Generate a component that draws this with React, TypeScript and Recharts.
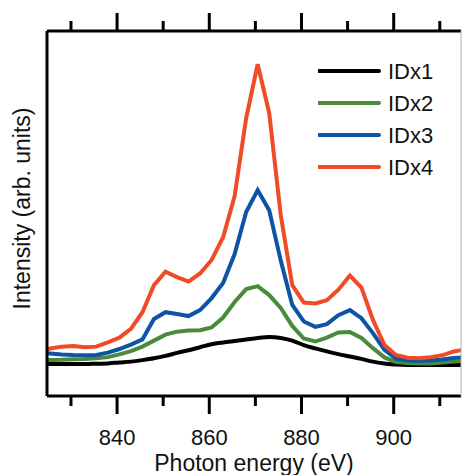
import React from 'react';
import { LineChart, Line, XAxis, YAxis, Legend } from 'recharts';

const energy = [823, 825.5, 828, 830.5, 833, 835.5, 838, 840.5, 843, 845.5, 848, 850.5, 853, 855.5, 858, 860.5, 863, 865.5, 868, 870.5, 873, 875.5, 878, 880.5, 883, 885.5, 888, 890.5, 893, 895.5, 898, 900.5, 903, 905.5, 908, 910.5, 913, 915.5];

const idx1 = [0, 0, 0, 0, 0, 0.001, 0.002, 0.005, 0.008, 0.013, 0.019, 0.027, 0.037, 0.046, 0.056, 0.066, 0.072, 0.077, 0.082, 0.087, 0.09, 0.087, 0.078, 0.063, 0.052, 0.042, 0.033, 0.025, 0.017, 0.008, 0.002, -0.002, -0.003, -0.003, -0.003, -0.003, -0.003, -0.003];
const idx2 = [0.013, 0.013, 0.014, 0.016, 0.017, 0.019, 0.023, 0.032, 0.043, 0.058, 0.078, 0.098, 0.108, 0.112, 0.113, 0.122, 0.155, 0.207, 0.25, 0.26, 0.23, 0.187, 0.127, 0.085, 0.075, 0.088, 0.105, 0.107, 0.087, 0.053, 0.022, 0.007, 0.003, 0.002, 0.002, 0.005, 0.008, 0.011];
const idx3 = [0.037, 0.035, 0.032, 0.03, 0.029, 0.03, 0.038, 0.05, 0.065, 0.082, 0.15, 0.173, 0.167, 0.16, 0.18, 0.22, 0.27, 0.367, 0.507, 0.58, 0.513, 0.345, 0.197, 0.142, 0.124, 0.133, 0.163, 0.18, 0.153, 0.103, 0.047, 0.018, 0.012, 0.011, 0.012, 0.015, 0.02, 0.023];
const idx4 = [0.043, 0.052, 0.058, 0.06, 0.056, 0.058, 0.072, 0.088, 0.117, 0.173, 0.263, 0.308, 0.29, 0.275, 0.302, 0.347, 0.423, 0.56, 0.82, 1.0, 0.837, 0.497, 0.263, 0.205, 0.202, 0.213, 0.248, 0.295, 0.255, 0.147, 0.063, 0.03, 0.021, 0.019, 0.023, 0.029, 0.042, 0.048];

const seriesNames = ['IDx1', 'IDx2', 'IDx3', 'IDx4'];
const seriesColors = ['#000000', '#4a8a3c', '#0d54a6', '#f04b26'];
const xTicks = [830, 840, 850, 860, 870, 880, 890, 900, 910];
const majorTicks = [840, 860, 880, 900];
const xDomain = [824.8, 914.6];
const yDomain = [-0.1067, 1.111];
const xLabel = 'Photon energy (eV)';
const yLabel = 'Intensity (arb. units)';

const data = energy.map((e, i) => ({
  e,
  IDx1: idx1[i],
  IDx2: idx2[i],
  IDx3: idx3[i],
  IDx4: idx4[i],
}));

const FONT = '"Liberation Sans", Arial, Helvetica, sans-serif';

const BottomTick = (props: any) => {
  const { x, y, payload } = props;
  const major = majorTicks.includes(payload.value);
  return (
    <g>
      <line x1={x} x2={x} y1={y} y2={y + (major ? 18 : 10)} stroke="#000" strokeWidth={3} />
      {major && (
        <text x={x} y={y + 49} textAnchor="middle" fontSize={22} fontFamily={FONT} fill="#111">
          {payload.value}
        </text>
      )}
    </g>
  );
};

const TopTick = (props: any) => {
  const { x, y, payload } = props;
  const major = majorTicks.includes(payload.value);
  return <line x1={x} x2={x} y1={y} y2={y - (major ? 18 : 10)} stroke="#000" strokeWidth={3} />;
};

const XLabel = (props: any) => {
  const vb = props.viewBox || {};
  return (
    <text x={vb.x + vb.width / 2} y={vb.y + 75} textAnchor="middle" fontSize={23} fontFamily={FONT} fill="#111">
      {xLabel}
    </text>
  );
};

const YLabel = (props: any) => {
  const vb = props.viewBox || {};
  const cx = vb.x + vb.width - 17.5;
  const cy = vb.y + vb.height / 2 - 5;
  return (
    <text x={cx} y={cy} transform={`rotate(-90, ${cx}, ${cy})`} textAnchor="middle" fontSize={23} fontFamily={FONT} fill="#111">
      {yLabel}
    </text>
  );
};

const LegendContent = (props: any) => {
  const items = props.payload || [];
  return (
    <svg width={140} height={130} style={{ display: 'block' }}>
      {items.map((it: any, i: number) => {
        const cy = 16 + i * 32;
        return (
          <g key={i}>
            <line x1={1} x2={61} y1={cy} y2={cy} stroke={it.color} strokeWidth={4} strokeLinecap="round" />
            <text x={70} y={cy + 8} fontSize={22} fontFamily={FONT} fill="#111">
              {it.value}
            </text>
          </g>
        );
      })}
    </svg>
  );
};

export default function App() {
  return (
    <div style={{ position: 'absolute', left: 0, top: 0, background: '#fff' }}>
      <LineChart width={462} height={475} data={data} margin={{ top: 30, right: 0, bottom: 78, left: 46 }}>
        <XAxis
          dataKey="e"
          type="number"
          domain={xDomain}
          allowDataOverflow
          ticks={xTicks}
          interval={0}
          height={1}
          tickSize={0}
          tickMargin={0}
          tickLine={false}
          axisLine={{ stroke: '#000', strokeWidth: 3 }}
          tick={<BottomTick />}
          label={<XLabel />}
        />
        <XAxis
          xAxisId="top"
          orientation="top"
          dataKey="e"
          type="number"
          domain={xDomain}
          allowDataOverflow
          ticks={xTicks}
          interval={0}
          height={1}
          tickSize={0}
          tickMargin={0}
          tickLine={false}
          axisLine={{ stroke: '#000', strokeWidth: 3 }}
          tick={<TopTick />}
        />
        <YAxis
          type="number"
          domain={yDomain}
          allowDataOverflow
          width={1}
          tick={false}
          tickLine={false}
          axisLine={{ stroke: '#000', strokeWidth: 3 }}
          label={<YLabel />}
        />
        <YAxis
          yAxisId="right"
          orientation="right"
          type="number"
          domain={yDomain}
          width={1}
          tick={false}
          tickLine={false}
          axisLine={{ stroke: '#b0b0b0', strokeWidth: 1 }}
        />
        <Legend
          layout="vertical"
          align="center"
          verticalAlign="middle"
          content={<LegendContent />}
          wrapperStyle={{ position: 'absolute', left: 318, top: 55, width: 140, height: 130 }}
        />
        {seriesNames.map((n, i) => (
          <Line
            key={n}
            dataKey={n}
            name={n}
            type={i === 0 ? 'monotone' : 'linear'}
            stroke={seriesColors[i]}
            strokeWidth={4}
            dot={false}
            activeDot={false}
            isAnimationActive={false}
          />
        ))}
      </LineChart>
    </div>
  );
}
